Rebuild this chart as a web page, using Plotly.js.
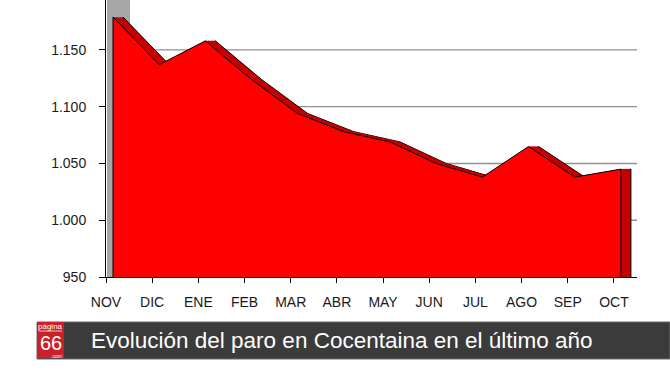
<!DOCTYPE html>
<html>
<head>
<meta charset="utf-8">
<script src="https://cdn.plot.ly/plotly-3.0.1.min.js"></script>
<style>html,body{margin:0;padding:0;background:#fff;}#chart{width:670px;height:377px;}</style>
</head>
<body>
<div id="chart"></div>
<script>
// ---- data ----
const months = ['NOV','DIC','ENE','FEB','MAR','ABR','MAY','JUN','JUL','AGO','SEP','OCT'];
const parados = [1179, 1137, 1158, 1124, 1094, 1078, 1069, 1050, 1038, 1065, 1038, 1045];
const yTickVals = [950, 1000, 1050, 1100, 1150];
const yTickText = ['950', '1.000', '1.050', '1.100', '1.150'];
const gridVals = [1000, 1050, 1100, 1150];
const titleText = 'Evolución del paro en Cocentaina en el último año';

// ---- geometry helpers (pixels) ----
const W = 670, H = 377;
const M = {l: 106, r: 33, t: 0, b: 100};
const plotW = W - M.l - M.r, plotH = H - M.t - M.b;
const yMin = 950, yMax = 1194;
const nSpan = 11.5;                 // category units across the plot
const pxPerCat = plotW / nSpan;
const frontDx = 7;                  // front face offset from the axis (px)
const depthShifts = [17, 15.6, 14.2, 12.8, 11.4, 10, 8.5]; // back face first, then the sweep
const px2paperX = p => (p - M.l) / plotW;
const px2paperY = p => (M.t + plotH - p) / plotH;

const base = yMin;
const polyX = [months[0]].concat(months, [months[months.length - 1]]);
const polyY = [base].concat(parados, [base]);

const font = {family: 'Liberation Sans, Arial, sans-serif', size: 14, color: '#1a1a1a'};
const depthColor = '#c40000';

// invisible carrier so the labelled category axis gets its categories
const traces = [{
  type: 'scatter', x: months, y: parados, xaxis: 'x', yaxis: 'y',
  mode: 'lines', line: {width: 0, color: 'rgba(0,0,0,0)'}, hoverinfo: 'skip'
}];
const layout = {
  width: W, height: H, margin: M,
  paper_bgcolor: '#ffffff', plot_bgcolor: 'rgba(0,0,0,0)',
  showlegend: false,
  xaxis: {
    type: 'category', categoryorder: 'array', categoryarray: months,
    range: [0, nSpan], showgrid: false, zeroline: false,
    showline: true, linecolor: '#000', linewidth: 1,
    ticks: 'outside', ticklen: 5, tickcolor: '#000', tickwidth: 1,
    ticklabelstandoff: 7, tickfont: font
  },
  yaxis: {
    range: [yMin, yMax],
    tickmode: 'array', tickvals: yTickVals, ticktext: yTickText,
    showgrid: false, zeroline: false,
    showline: true, linecolor: '#000', linewidth: 1,
    ticks: 'outside', ticklen: 6, tickcolor: '#000', tickwidth: 1,
    ticklabelstandoff: 10, tickfont: font
  }
};

const catAxis = (shift) => ({
  visible: false, showgrid: false, zeroline: false, overlaying: 'x', anchor: 'y',
  type: 'category', categoryorder: 'array', categoryarray: months,
  range: [-shift / pxPerCat, nSpan - shift / pxPerCat]
});

// depth copies (back face + sweep), drawn before the front face
depthShifts.forEach((s, i) => {
  const ax = 'x' + (i + 2);
  layout['xaxis' + (i + 2)] = catAxis(s);
  traces.push({
    type: 'scatter', x: polyX, y: polyY, xaxis: ax, yaxis: 'y',
    mode: 'lines', fill: 'toself', fillcolor: depthColor,
    line: i === 0 ? {color: '#000', width: 1} : {color: depthColor, width: 0.5},
    hoverinfo: 'skip'
  });
});
// front face
const fi = depthShifts.length + 2;
layout['xaxis' + fi] = catAxis(frontDx);
traces.push({
  type: 'scatter', x: polyX, y: polyY, xaxis: 'x' + fi, yaxis: 'y',
  mode: 'lines', fill: 'toself', fillcolor: '#ff0000',
  line: {color: '#000', width: 1}, hoverinfo: 'skip'
});

const shapes = [];
shapes.push({type: 'rect', xref: 'paper', yref: 'paper', layer: 'below',
  x0: px2paperX(107), x1: px2paperX(130), y0: 0, y1: 1,
  fillcolor: '#a6a6a6', line: {width: 0}});
gridVals.forEach(v => shapes.push({type: 'line', xref: 'paper', yref: 'y', layer: 'below',
  x0: px2paperX(130), x1: 1, y0: v, y1: v, line: {color: '#909090', width: 1.3}}));
shapes.push({type: 'rect', xref: 'paper', yref: 'paper', layer: 'above',
  x0: px2paperX(37), x1: px2paperX(670), y0: px2paperY(322), y1: px2paperY(359),
  fillcolor: '#3b3b3b', line: {color: '#6a6a6a', width: 1}});
shapes.push({type: 'rect', xref: 'paper', yref: 'paper', layer: 'above',
  x0: px2paperX(37), x1: px2paperX(64), y0: px2paperY(322), y1: px2paperY(358),
  fillcolor: '#c9202a', line: {width: 0}});
shapes.push({type: 'line', xref: 'paper', yref: 'paper', layer: 'above',
  x0: px2paperX(39), x1: px2paperX(62), y0: px2paperY(331), y1: px2paperY(331),
  line: {color: '#f3c0c0', width: 1}});
layout.shapes = shapes;

layout.annotations = [
  {xref: 'paper', yref: 'paper', x: px2paperX(89), y: px2paperY(340.5), xanchor: 'left', yanchor: 'middle',
   text: titleText, showarrow: false,
   font: {family: 'Liberation Sans, Arial, sans-serif', size: 22.5, color: '#ffffff'}},
  {xref: 'paper', yref: 'paper', x: px2paperX(50.5), y: px2paperY(326), xanchor: 'center', yanchor: 'middle',
   text: 'página', showarrow: false,
   font: {family: 'Liberation Sans, Arial, sans-serif', size: 8, color: '#ffffff'}},
  {xref: 'paper', yref: 'paper', x: px2paperX(51), y: px2paperY(342.5), xanchor: 'center', yanchor: 'middle',
   text: '66', showarrow: false,
   font: {family: 'Liberation Sans Narrow, Liberation Sans, Arial, sans-serif', size: 20, color: '#ffffff'}},
  {xref: 'paper', yref: 'paper', x: px2paperX(56), y: px2paperY(355.5), xanchor: 'center', yanchor: 'middle',
   text: '.com', showarrow: false,
   font: {family: 'Liberation Sans, Arial, sans-serif', size: 5, color: '#ffffff'}}
];

Plotly.newPlot('chart', traces, layout, {staticPlot: true, displayModeBar: false});
</script>
</body>
</html>
